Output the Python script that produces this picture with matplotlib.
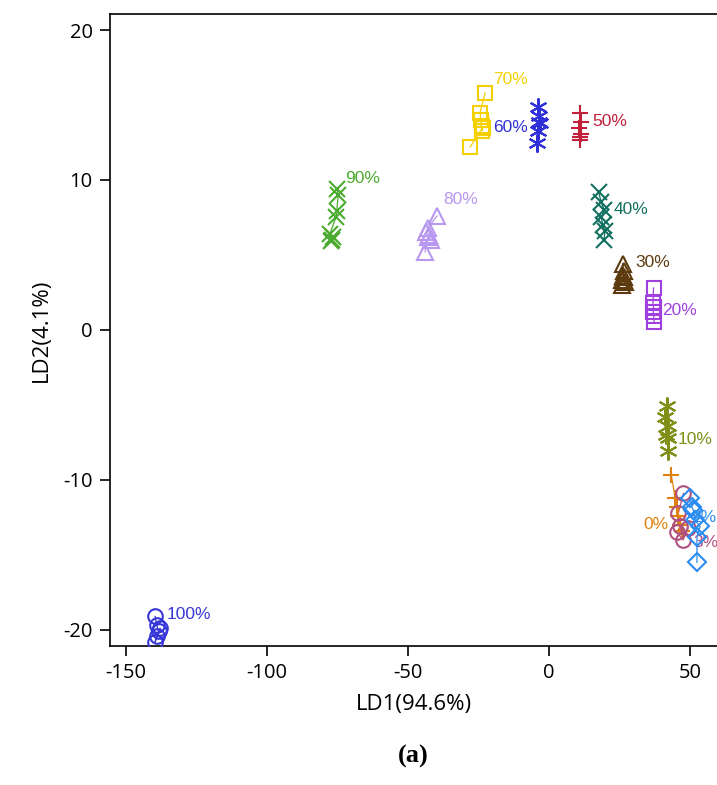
import matplotlib
matplotlib.use('Agg')
import matplotlib.pyplot as plt

plt.rcParams['axes.unicode_minus'] = False

# LDA scores, one list per group
x100 = [-139.7, -139.1, -138.5, -139.1, -139.7, -137.9]
y100 = [-19.1, -19.7, -20.1, -20.4, -20.8, -19.9]
x90 = [-75.2, -74.8, -75.3, -75.6, -77.8, -77.0, -77.5, -76.5]
y90 = [9.4, 9.0, 7.9, 7.5, 6.4, 6.0, 5.9, 6.2]
x80 = [-39.8, -43.0, -43.5, -42.5, -42.0, -43.0, -44.0]
y80 = [7.6, 6.8, 6.5, 6.3, 6.0, 6.2, 5.2]
x70 = [-22.7, -24.5, -24.3, -23.9, -23.8, -23.6, -28.0]
y70 = [15.8, 14.5, 14.0, 13.6, 13.3, 13.5, 12.2]
x60 = [-3.8, -3.5, -3.2, -3.9, -4.3, -3.6]
y60 = [14.9, 14.3, 13.8, 13.3, 12.5, 13.9]
x50 = [11.0, 11.3, 10.7, 11.2, 10.9, 11.1]
y50 = [14.5, 13.9, 13.5, 13.1, 12.9, 12.7]
x40 = [17.5, 18.5, 19.5, 18.5, 19.0, 19.7, 19.5]
y40 = [9.2, 8.5, 8.0, 7.5, 7.0, 6.6, 6.0]
x30 = [26.0, 26.5, 26.2, 25.8, 27.0, 26.6, 25.9]
y30 = [4.4, 3.9, 3.6, 3.3, 3.2, 3.5, 3.0]
x20 = [37.0, 36.8, 37.0, 36.9, 37.1, 37.2]
y20 = [2.8, 1.8, 1.5, 1.2, 0.9, 0.5]
x10 = [41.7, 41.2, 42.0, 41.5, 42.3, 42.0]
y10 = [-5.1, -5.8, -6.4, -7.0, -7.2, -8.1]
x0 = [43.3, 44.7, 45.3, 45.7, 46.4, 47.0]
y0 = [-9.7, -11.2, -11.8, -12.4, -13.0, -13.4]
x3 = [47.6, 45.8, 46.4, 45.3, 47.5, 49.3]
y3 = [-10.9, -12.2, -13.1, -13.5, -14.0, -13.2]
x2 = [50.0, 50.6, 51.1, 51.8, 53.5, 52.4, 52.4]
y2 = [-11.2, -11.8, -12.0, -12.7, -13.1, -13.8, -15.5]

names = ['100%', '90%', '80%', '70%', '60%', '50%', '40%', '30%', '20%', '10%', '0%', '3%', '2%']
xs = [x100, x90, x80, x70, x60, x50, x40, x30, x20, x10, x0, x3, x2]
ys = [y100, y90, y80, y70, y60, y50, y40, y30, y20, y10, y0, y3, y2]
colors = ['#3636d8', '#4aab2e', '#b898f0', '#f5d000', '#3030d8', '#c0203a', '#127060',
          '#5c3a0e', '#a040e0', '#7f8f18', '#e0800f', '#b05080', '#2a8cf0']
markers = ['o', 'x', '^', 's', (6, 2, 0), '+', 'x', '^', 's', (6, 2, 0), '+', 'o', 'D']
line_colors = colors[:4] + ['black'] + colors[5:]
# where each percentage label sits
lab_x = [-135.6, -72.3, -37.6, -19.9, -19.9, 15.2, 22.7, 30.5, 40.1, 45.4, 33.5, 51.0, 50.5]
lab_y = [-19.0, 10.1, 8.7, 16.7, 13.5, 13.9, 8.0, 4.5, 1.3, -7.3, -13.0, -14.2, -12.5]
sizes = {'o': 10.5, 's': 10.5, 'x': 11, '^': 11, '+': 12, 'D': 9.5}

fig = plt.figure(figsize=(7.17, 7.85), dpi=100)
ax = fig.add_axes([0.1534, 0.1771, 0.8466, 0.8051])

for i in range(len(names)):
    ax.plot(xs[i], ys[i], '-', color=line_colors[i], lw=0.9, zorder=3)
    ms = sizes.get(markers[i], 13)
    ax.plot(xs[i], ys[i], linestyle='none', marker=markers[i], ms=ms,
            mfc='none', mec=colors[i], mew=1.5, zorder=4)
    ax.text(lab_x[i], lab_y[i], names[i], color=colors[i], fontsize=12.5,
            family='Liberation Sans', va='center', ha='left', zorder=2)

ax.set_xlim(-155.7, 59.5)
ax.set_ylim(-21.07, 21.07)
ax.set_xticks([-150, -100, -50, 0, 50])
ax.set_yticks([-20, -10, 0, 10, 20])
ax.spines['right'].set_visible(False)
for s in ['left', 'bottom', 'top']:
    ax.spines[s].set_linewidth(1.2)
ax.tick_params(length=7.5, width=1.2, labelsize=14.5, pad=5)
for lab in ax.get_xticklabels() + ax.get_yticklabels():
    lab.set_family('Open Sans')
ax.set_xlabel('LD1(94.6%)', fontsize=16, family='Open Sans', labelpad=8)
ax.set_ylabel('LD2(4.1%)', fontsize=16, family='Open Sans', labelpad=8)

fig.text(0.576, 0.022, '(a)', fontsize=19, family='Liberation Serif',
         fontweight='bold', ha='center', va='bottom')

plt.savefig('out.png', dpi=100)
